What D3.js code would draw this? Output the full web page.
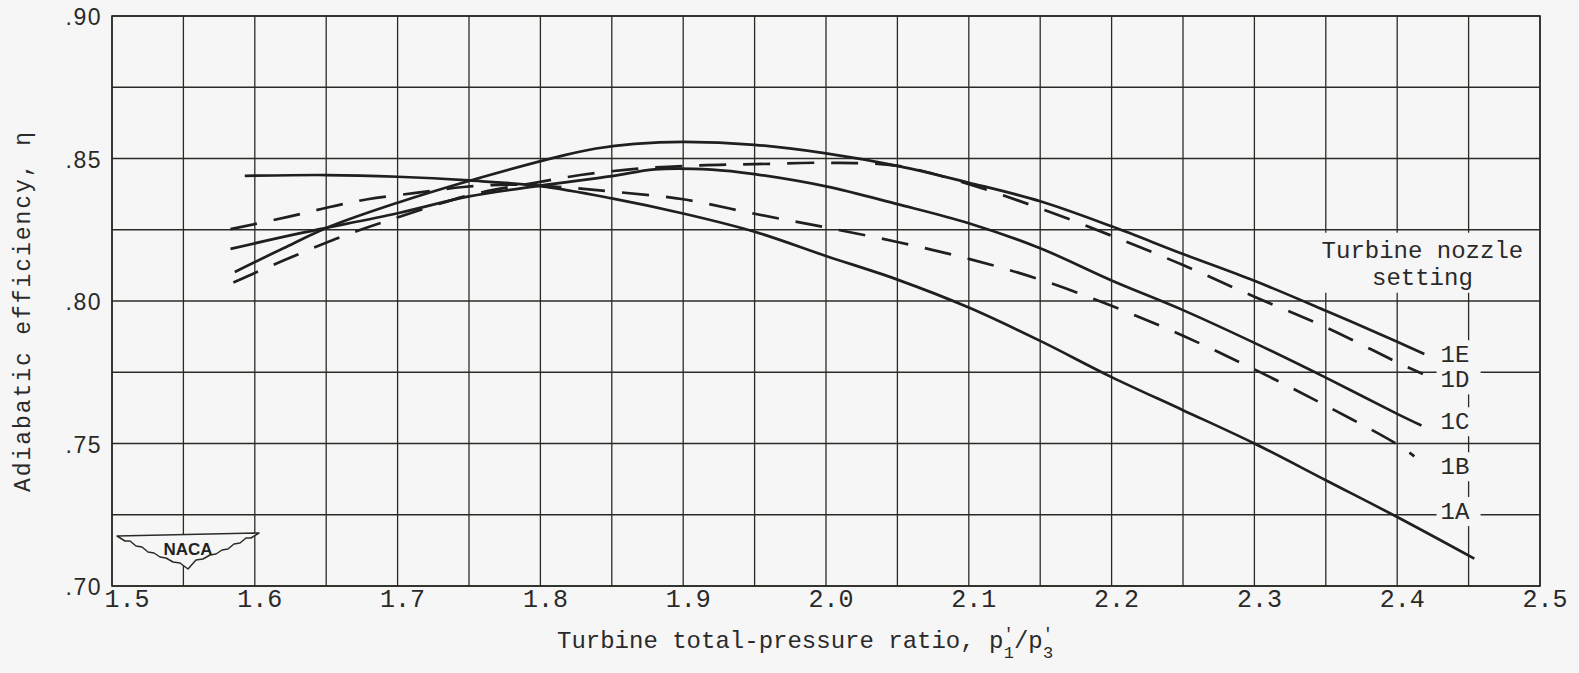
<!DOCTYPE html>
<html>
<head>
<meta charset="utf-8" />
<title>Adiabatic efficiency vs pressure ratio</title>
<script src="https://cdn.jsdelivr.net/npm/d3@7"></script>
<style>
    body { margin: 0; background: #f6f6f6; }
    svg { display: block; }
    .mono { font-family: "Liberation Mono", "DejaVu Sans Mono", monospace; fill: #2a2a2a; }
    .ytick { font-family: "Liberation Sans", Arial, sans-serif; fill: #2a2a2a; letter-spacing: 1.5px; }
</style>
</head>
<body>
<div id="chart"></div>
<script>
// values: [pressure ratio, efficiency]
var curve1A = [[1.593, .8439], [1.65, .8442], [1.7, .8436], [1.75, .8423], [1.8, .8403], [1.85, .836],
    [1.9, .8307], [1.95, .8243], [2.0, .8158], [2.05, .8075], [2.1, .7977], [2.15, .786], [2.2, .7733],
    [2.25, .7617], [2.3, .75], [2.35, .7371], [2.4, .7242], [2.454, .7096]];
var curve1B = [[1.583, .8252], [1.624, .8296], [1.651, .8328], [1.679, .8357], [1.714, .838], [1.746, .840],
    [1.78, .8408], [1.814, .840], [1.85, .8384], [1.9, .8357], [1.95, .8306], [2.0, .8258], [2.05, .8207],
    [2.1, .8148], [2.15, .8075], [2.2, .7983], [2.25, .7878], [2.3, .776], [2.35, .7633], [2.4, .7497], [2.412, .7455]];
var curve1C = [[1.583, .8183], [1.632, .8238], [1.7, .8308], [1.75, .8367], [1.8, .8405], [1.85, .8438],
    [1.88, .8462], [1.92, .8461], [1.95, .8445], [2.0, .8402], [2.05, .834], [2.1, .8273], [2.15, .8185],
    [2.2, .8072], [2.25, .7968], [2.3, .7853], [2.35, .7731], [2.4, .7604], [2.417, .7563]];
var curve1D = [[1.585, .8065], [1.62, .8142], [1.663, .823], [1.695, .8285], [1.751, .8372], [1.8, .8418],
    [1.828, .8442], [1.87, .8465], [1.912, .8476], [1.95, .848], [2.0, .8485], [2.05, .8474], [2.1, .841],
    [2.15, .8325], [2.2, .8229], [2.25, .8126], [2.3, .8015], [2.35, .7908], [2.4, .7785], [2.418, .7744]];
var curve1E = [[1.586, .8102], [1.62, .8185], [1.653, .8262], [1.7, .8345], [1.751, .8423], [1.817, .8512],
    [1.839, .8535], [1.866, .8551], [1.9, .8558], [1.95, .8548], [2.0, .8518], [2.05, .8474], [2.1, .8415],
    [2.15, .835], [2.2, .8262], [2.25, .8165], [2.3, .8071], [2.35, .7966], [2.4, .7857], [2.419, .7814]];

var settings = ["1A", "1B", "1C", "1D", "1E"];
var curves = [curve1A, curve1B, curve1C, curve1D, curve1E];
var labelEff = [.7263, .742, .7578, .7725, .7813];   // where the setting names sit
var labelRatio = 2.45;

var xTicks = [1.5, 1.6, 1.7, 1.8, 1.9, 2.0, 2.1, 2.2, 2.3, 2.4, 2.5];
var xTickLabels = ["1.5", "1.6", "1.7", "1.8", "1.9", "2.0", "2.1", "2.2", "2.3", "2.4", "2.5"];
var yTicks = [.70, .75, .80, .85, .90];
var yTickLabels = [".70", ".75", ".80", ".85", ".90"];

var dashedSettings = ["1B", "1D"];
var ink = "#2b2b26";
var paper = "#f6f6f6";

var W = 1579, H = 673;
var svg = d3.select("#chart").append("svg").attr("width", W).attr("height", H);
svg.append("rect").attr("width", W).attr("height", H).attr("fill", paper);

var x = d3.scaleLinear().domain([1.5, 2.5]).range([112, 1540]);
var y = d3.scaleLinear().domain([0.70, 0.90]).range([586, 16]);

// grid, every 0.05 in x and 0.025 in y
var grid = svg.append("g").attr("stroke", ink).attr("stroke-width", 1.3);
grid.selectAll(".v").data(d3.range(0, 21).map(function (i) { return 1.5 + i * 0.05; }))
    .enter().append("line")
    .attr("x1", d => x(d)).attr("x2", d => x(d)).attr("y1", y(0.90)).attr("y2", y(0.70));
grid.selectAll(".h").data(d3.range(0, 9).map(function (i) { return 0.70 + i * 0.025; }))
    .enter().append("line")
    .attr("x1", x(1.5)).attr("x2", x(2.5)).attr("y1", d => y(d)).attr("y2", d => y(d));

// blank boxes behind the notes (they break the grid in the original)
svg.append("rect").attr("x", x(2.30) + 58).attr("y", y(0.825) + 3)
    .attr("width", 220).attr("height", 60).attr("fill", paper);
svg.selectAll(".lbox").data(labelEff).enter().append("rect")
    .attr("x", x(labelRatio) - 32).attr("y", d => y(d) - 14)
    .attr("width", 44).attr("height", 29).attr("fill", paper);

// frame
svg.append("rect").attr("x", x(1.5)).attr("y", y(0.90))
    .attr("width", x(2.5) - x(1.5)).attr("height", y(0.70) - y(0.90))
    .attr("fill", "none").attr("stroke", ink).attr("stroke-width", 1.6);

// NACA wings, left half mirrored
var lx = x(1.5) + 5, ly = y(0.70) - 50;
var half = [[0, 0], [8, 5], [13, 5], [19, 10], [25, 11], [31, 16], [37, 17], [43, 21], [49, 22], [56, 26], [63, 27], [71, 33]];
var pts = half.map(p => [lx + p[0], ly + p[1]]);
half.slice(0, -1).reverse().forEach(p => pts.push([lx + 142 - p[0], ly - 3 + p[1]]));
svg.append("path").attr("d", d3.line()(pts) + "Z")
    .attr("fill", paper).attr("stroke", ink).attr("stroke-width", 1.5).attr("stroke-linejoin", "round");
svg.append("text").attr("x", lx + 71).attr("y", ly + 19).attr("text-anchor", "middle")
    .style("font-family", "'Liberation Sans', Arial, sans-serif").style("font-weight", "bold")
    .style("font-size", "17px").style("fill", "#222").text("NACA");

// curves
var line = d3.line().x(d => x(d[0])).y(d => y(d[1])).curve(d3.curveCatmullRom.alpha(0.5));
svg.selectAll(".curve").data(curves).enter().append("path")
    .attr("d", line)
    .attr("fill", "none")
    .attr("stroke", "#1f1f1f")
    .attr("stroke-width", 2.7)
    .attr("stroke-dasharray", (d, i) => dashedSettings.indexOf(settings[i]) >= 0 ? "27,17" : null);

// setting names
svg.selectAll(".lab").data(settings).enter().append("text")
    .attr("class", "mono")
    .attr("x", x(labelRatio) - 28).attr("y", (d, i) => y(labelEff[i]) + 8)
    .style("font-size", "24px")
    .text(d => d);

svg.append("text").attr("class", "mono").attr("x", x(2.30) + 168).attr("y", y(0.825) + 28)
    .attr("text-anchor", "middle").style("font-size", "24px").text("Turbine nozzle");
svg.append("text").attr("class", "mono").attr("x", x(2.30) + 168).attr("y", y(0.825) + 55)
    .attr("text-anchor", "middle").style("font-size", "24px").text("setting");

// tick labels
svg.selectAll(".xt").data(xTicks).enter().append("text")
    .attr("class", "mono")
    .attr("x", (d, i) => x(d) + (i === 0 ? 15 : 5)).attr("y", y(0.70) + 21)
    .attr("text-anchor", "middle").style("font-size", "25px")
    .text((d, i) => xTickLabels[i]);
svg.selectAll(".yt").data(yTicks).enter().append("text")
    .attr("class", "ytick")
    .attr("x", x(1.5) - 10).attr("y", d => y(d) + 9)
    .attr("text-anchor", "end").style("font-size", "23px")
    .text((d, i) => yTickLabels[i]);

// axis titles
var xt = svg.append("text").attr("class", "mono").attr("x", 557).attr("y", 648).style("font-size", "24px");
xt.append("tspan").text("Turbine total-pressure ratio, p");
xt.append("tspan").attr("dy", -9).style("font-size", "17px").text("'");
xt.append("tspan").attr("dx", -10).attr("dy", 19).style("font-size", "17px").text("1");
xt.append("tspan").attr("dy", -10).text("/p");
xt.append("tspan").attr("dy", -9).style("font-size", "17px").text("'");
xt.append("tspan").attr("dx", -10).attr("dy", 19).style("font-size", "17px").text("3");

svg.append("text").attr("class", "mono")
    .attr("transform", "translate(30,312) rotate(-90)")
    .attr("text-anchor", "middle").style("font-size", "23px")
    .attr("textLength", 360).attr("lengthAdjust", "spacing")
    .text("Adiabatic efficiency, \u03b7");
</script>
</body>
</html>
